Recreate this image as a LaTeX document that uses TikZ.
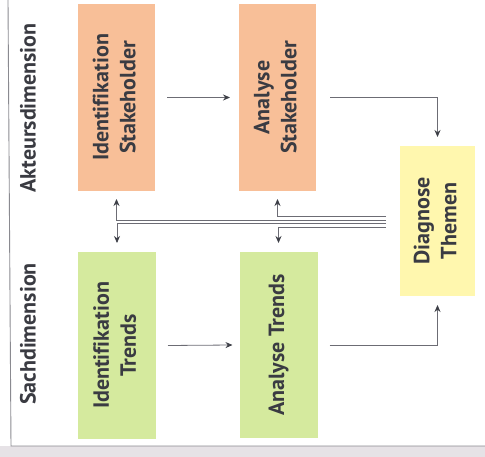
\documentclass[tikz,border=0pt]{standalone}
\usepackage{fontspec}
\setmainfont{PT Sans}[Ligatures=NoCommon]
\usetikzlibrary{arrows.meta,calc}
\definecolor{boxorange}{HTML}{F8BF98}
\definecolor{boxgreen}{HTML}{D5EA9E}
\definecolor{boxyellow}{HTML}{FFF7AE}
\definecolor{linegray}{HTML}{6C6C74}
\definecolor{tipgray}{HTML}{3E4048}
\definecolor{textgray}{HTML}{3A3B42}
\definecolor{framegray}{HTML}{8A8A90}
\definecolor{bandgray}{HTML}{E6E2E6}
\begin{document}
\begin{tikzpicture}[x=1pt,y=-1pt,
  stepbox/.style={inner sep=0pt,outer sep=0pt,text=textgray,font=\fontsize{22}{27}\selectfont\bfseries},
  orangebox/.style={stepbox,fill=boxorange},
  greenbox/.style={stepbox,fill=boxgreen},
  yellowbox/.style={stepbox,fill=boxyellow},
  dimlabel/.style={text=textgray,font=\fontsize{22}{26}\selectfont\bfseries,rotate=90,inner sep=0pt},
  arr/.style={draw=linegray,line width=0.8pt,-{Stealth[length=7pt,width=6pt,color=tipgray]}}
]
\useasboundingbox (0,0) rectangle (485,457);
% background band and frame
\fill[bandgray] (0,446) rectangle (485,457);
\draw[framegray,line width=0.9pt] (8,0) -- (11,446) -- (485,446);
% labels
\node[dimlabel] (akt) at (28,108) {Akteursdimension};
\node[dimlabel] (sach) at (28,334) {Sachdimension};
% boxes
\node[orangebox,minimum width=77pt,minimum height=187pt] (is) at (116.5,97.5)
  {\rotatebox{90}{\begin{tabular}{@{}c@{}}Identifikation\\Stakeholder\end{tabular}}};
\node[orangebox,minimum width=77pt,minimum height=187pt] (as) at (277.5,97.5)
  {\rotatebox{90}{\begin{tabular}{@{}c@{}}Analyse\\Stakeholder\end{tabular}}};
\node[greenbox,minimum width=78pt,minimum height=187pt] (it) at (117,345.5)
  {\rotatebox{90}{\begin{tabular}{@{}c@{}}Identifikation\\Trends\end{tabular}}};
\node[greenbox,minimum width=78pt,minimum height=186pt] (at) at (278.5,345)
  {\rotatebox{90}{Analyse Trends}};
\node[yellowbox,minimum width=75pt,minimum height=150pt] (dt) at (437.5,221)
  {\rotatebox{90}{\begin{tabular}{@{}c@{}}Diagnose\\Themen\end{tabular}}};
% flow arrows
\draw[arr] ([xshift=12pt]is.east) -- ([xshift=-9pt]as.west);
\draw[arr] ([xshift=14pt]as.east) -| ([yshift=9pt]dt.north);
\draw[arr] ([xshift=12pt]it.east) -- ([xshift=-7pt]at.west);
\draw[arr] ([xshift=12pt]at.east) -| ([yshift=-9pt]dt.south);
% feedback arrows
\draw[arr] ([xshift=-14pt,yshift=5pt]dt.west) -| ([yshift=-8pt]as.south);
\draw[arr] ([xshift=-14pt,yshift=1pt]dt.west) -| ([yshift=-8pt]is.south);
\draw[arr] ([xshift=-14pt,yshift=-2.5pt]dt.west) -| ([yshift=9pt]it.north);
\draw[arr] ([xshift=-14pt,yshift=-6pt]dt.west) -| ([yshift=9pt]at.north);
\end{tikzpicture}
\end{document}
